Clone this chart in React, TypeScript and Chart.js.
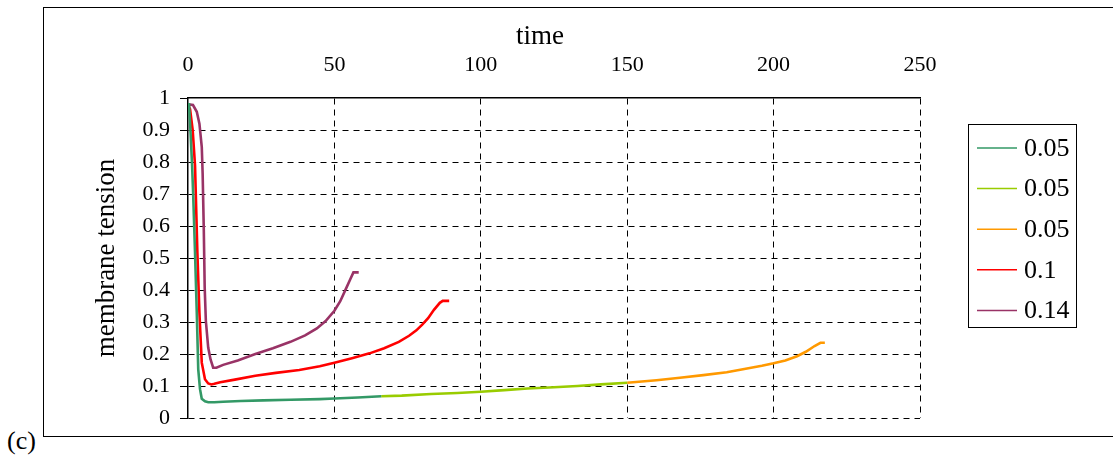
import React, { useEffect, useRef } from "react";
import { Chart, registerables } from "chart.js";

Chart.register(...registerables);

// ---- data ----
const seriesLabels = ["0.05", "0.05", "0.05", "0.1", "0.14"];
const seriesColors = ["#339966", "#99CC00", "#FF9900", "#FF0000", "#993366"];

const greenA_t = [0, 0.35, 0.8, 1.4, 1.8, 2.4, 3.0, 3.5, 4.1, 4.7, 5.8, 6.9, 9, 12, 18, 25.7, 35, 45, 50, 58, 66];
const greenA_v = [0.98, 0.98, 0.905, 0.789, 0.69, 0.517, 0.329, 0.152, 0.09, 0.06, 0.052, 0.049, 0.049, 0.051, 0.053, 0.055, 0.057, 0.059, 0.061, 0.064, 0.068];

const greenB_t = [66, 73, 83, 92, 100, 108, 116, 125, 133, 141, 150];
const greenB_v = [0.068, 0.07, 0.075, 0.078, 0.082, 0.087, 0.092, 0.096, 0.1, 0.105, 0.11];

const orange_t = [150, 155, 160, 168, 176, 184, 190, 196, 200, 204, 208, 211, 214, 216, 217.5];
const orange_v = [0.11, 0.114, 0.118, 0.126, 0.134, 0.143, 0.153, 0.163, 0.171, 0.18, 0.193, 0.207, 0.225, 0.235, 0.235];

const red_t = [0, 0.7, 1.6, 2.4, 3.2, 3.9, 4.7, 5.8, 6.9, 8, 9, 11, 16, 23, 30, 38, 45, 50, 56, 62, 67, 72, 75.5, 78, 80, 82, 84, 86, 87, 89.2];
const red_v = [0.98, 0.965, 0.9, 0.789, 0.517, 0.329, 0.173, 0.121, 0.108, 0.105, 0.107, 0.112, 0.12, 0.132, 0.141, 0.15, 0.162, 0.173, 0.187, 0.202, 0.218, 0.238, 0.257, 0.274, 0.292, 0.312, 0.338, 0.36, 0.366, 0.366];

const purple_t = [0, 1.7, 3.0, 3.9, 4.7, 5.0, 5.4, 5.7, 6.1, 6.9, 7.7, 8.6, 9.7, 12, 17, 23, 29, 35, 40, 44, 47, 50, 52, 54, 55.5, 56.5, 58.3];
const purple_v = [0.98, 0.978, 0.957, 0.92, 0.847, 0.764, 0.586, 0.408, 0.303, 0.22, 0.183, 0.157, 0.157, 0.166, 0.18, 0.2, 0.218, 0.238, 0.258, 0.28, 0.303, 0.335, 0.365, 0.405, 0.435, 0.455, 0.455];

const xTickValues = [0, 50, 100, 150, 200, 250];
const yTickValues = [0, 0.1, 0.2, 0.3, 0.4, 0.5, 0.6, 0.7, 0.8, 0.9, 1];

const xTitle = "time";
const yTitle = "membrane tension";
const panelLabel = "(c)";

const SERIF = "'Liberation Serif', 'Times New Roman', serif";

const toPoints = (t: number[], v: number[]) => t.map((x, i) => ({ x, y: v[i] }));

const boxLegend = {
  id: "boxLegend",
  afterDraw(chart: any) {
    const { ctx, chartArea } = chart;
    // x-axis title (placed slightly left of the plot centre, as in the reference)
    ctx.save();
    ctx.font = `27px ${SERIF}`;
    ctx.fillStyle = "#000";
    ctx.textAlign = "center";
    ctx.textBaseline = "middle";
    ctx.fillText(xTitle, (chartArea.left + chartArea.right) / 2 - 14, 37);
    ctx.restore();

    const left = chartArea.right + 48;
    const top = 124;
    const w = 108;
    const h = 203;
    ctx.save();
    ctx.strokeStyle = "#000";
    ctx.lineWidth = 1;
    ctx.strokeRect(Math.round(left) + 0.5, top + 0.5, w, h);
    ctx.font = `26px ${SERIF}`;
    ctx.textBaseline = "middle";
    ctx.textAlign = "left";
    chart.data.datasets.forEach((ds: any, i: number) => {
      const y = top + 24 + i * 40.6;
      ctx.strokeStyle = ds.borderColor;
      ctx.lineWidth = 1.5;
      ctx.beginPath();
      ctx.moveTo(left + 9, y);
      ctx.lineTo(left + 49, y);
      ctx.stroke();
      ctx.fillStyle = "#000";
      ctx.fillText(ds.label, left + 56, y + 1);
    });
    ctx.restore();
  },
};

export default function App() {
  const canvasRef = useRef<HTMLCanvasElement | null>(null);

  useEffect(() => {
    if (!canvasRef.current) return;
    const series = [
      toPoints(greenA_t, greenA_v),
      toPoints(greenB_t, greenB_v),
      toPoints(orange_t, orange_v),
      toPoints(red_t, red_v),
      toPoints(purple_t, purple_v),
    ];
    const chart = new Chart(canvasRef.current, {
      type: "line",
      data: {
        datasets: series.map((pts, i) => ({
          label: seriesLabels[i],
          data: pts,
          borderColor: seriesColors[i],
          backgroundColor: seriesColors[i],
          borderWidth: 2.6,
          pointRadius: 0,
          tension: 0,
          fill: false,
        })),
      },
      options: {
        animation: false,
        responsive: true,
        maintainAspectRatio: false,
        layout: { padding: { left: 0, top: 0, right: 193, bottom: 38 } },
        plugins: {
          legend: { display: false },
          tooltip: { enabled: false },
        },
        scales: {
          x: {
            type: "linear",
            position: "top",
            min: 0,
            max: 250,
            afterBuildTicks: (scale: any) => {
              scale.ticks = xTickValues.map((value) => ({ value }));
            },
            afterFit: (scale: any) => {
              scale.height = 98;
            },
            ticks: {
              color: "#000",
              font: { family: SERIF, size: 22 },
              padding: 20,
              maxRotation: 0,
            },
            grid: {
              color: (c: any) => (c.tick && c.tick.value === 0 ? "rgba(0,0,0,0)" : "#000"),
              lineWidth: 1,
              drawTicks: false,
            },
            border: { display: true, color: "#000", width: 1.5, dash: [6, 5] },
            title: { display: false, text: xTitle },
          },
          y: {
            type: "linear",
            min: 0,
            max: 1,
            afterBuildTicks: (scale: any) => {
              scale.ticks = yTickValues.map((value) => ({ value }));
            },
            afterFit: (scale: any) => {
              scale.width = 188;
            },
            ticks: {
              color: "#000",
              font: { family: SERIF, size: 22 },
              padding: 10,
              callback: (v: any) => String(Math.round(Number(v) * 10) / 10),
            },
            grid: {
              color: (c: any) => (c.tick && c.tick.value === 1 ? "rgba(0,0,0,0)" : "#000"),
              lineWidth: 1,
              drawTicks: true,
              tickLength: 8,
              tickColor: "#000",
            },
            border: { display: true, color: "#000", width: 1.5, dash: [6, 5] },
            title: {
              display: true,
              text: yTitle,
              color: "#000",
              font: { family: SERIF, size: 27 },
              padding: { top: 91, bottom: 0 },
            },
          },
        },
      },
      plugins: [boxLegend],
    } as any);
    return () => chart.destroy();
  }, []);

  return (
    <div
      style={{
        position: "absolute",
        left: 0,
        top: 0,
        width: 1113,
        height: 456,
        overflow: "hidden",
        background: "#fff",
      }}
    >
      <div
        style={{
          position: "absolute",
          left: 43,
          top: 7,
          width: 1200,
          height: 430,
          border: "1.5px solid #000",
          boxSizing: "border-box",
        }}
      />
      <div
        style={{
          position: "absolute",
          left: 7,
          top: 426,
          fontFamily: SERIF,
          fontSize: 26,
          lineHeight: "30px",
          color: "#000",
        }}
      >
        {panelLabel}
      </div>
      <div style={{ position: "absolute", left: 0, top: 0, width: 1113, height: 456 }}>
        <canvas ref={canvasRef} />
      </div>
    </div>
  );
}
